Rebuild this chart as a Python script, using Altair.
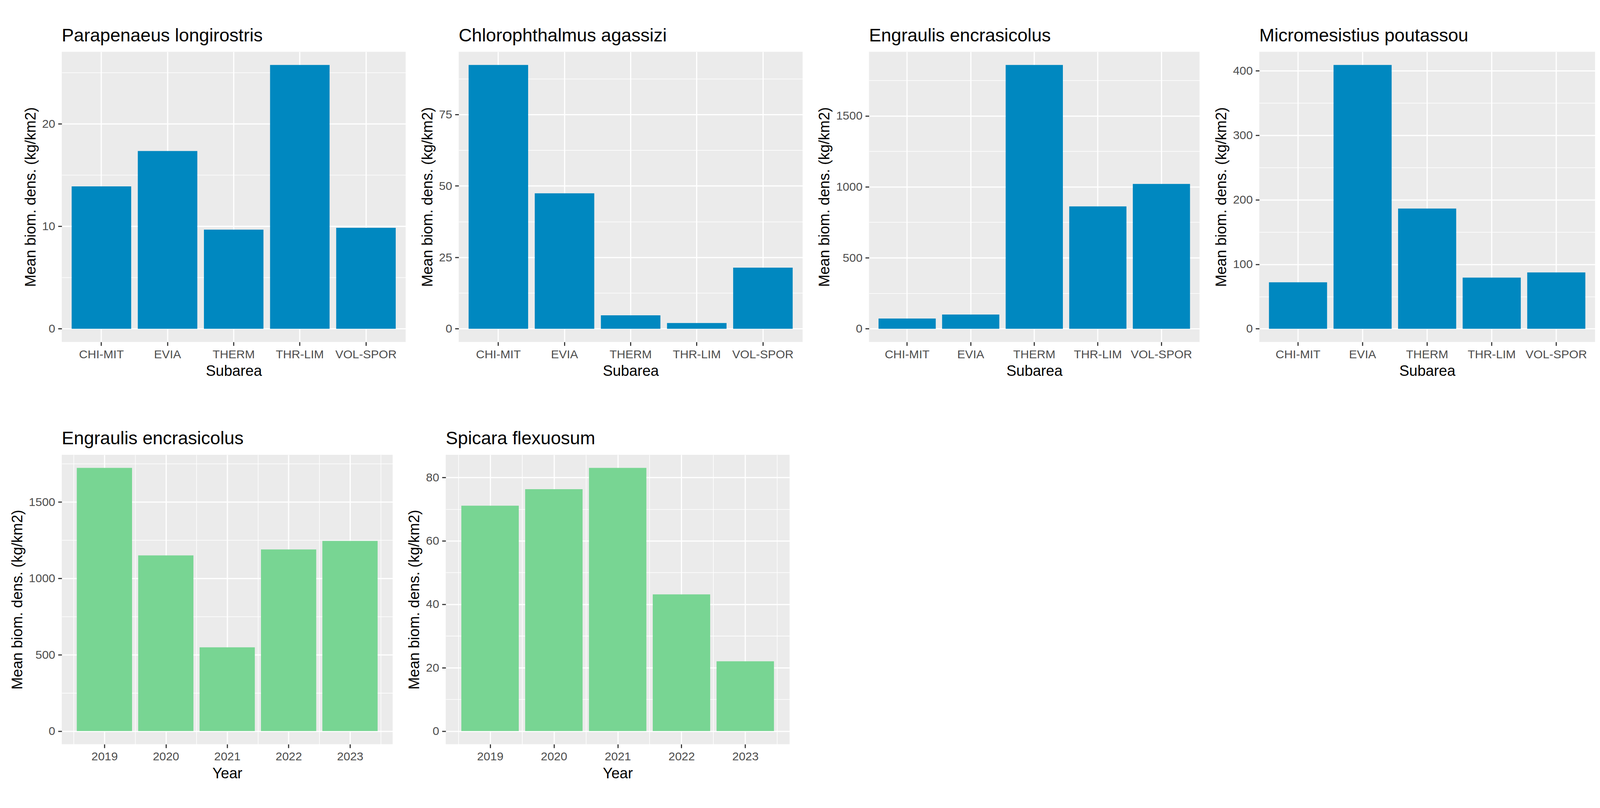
import altair as alt
import pandas as pd

# ---- data ----
subareas = ["CHI-MIT", "EVIA", "THERM", "THR-LIM", "VOL-SPOR"]
parapenaeus = [13.9, 17.35, 9.68, 25.75, 9.86]
chlorophthalmus = [92.3, 47.4, 4.7, 2.0, 21.4]
engraulis_sub = [72, 100, 1858, 862, 1020]
micromesistius = [72, 409, 186.4, 79.3, 87.3]

years = [2019, 2020, 2021, 2022, 2023]
engraulis_year = [1723, 1150, 548, 1189, 1245]
spicara = [71.1, 76.3, 83.0, 43.1, 22.0]

BLUE = "#0088C0"
GREEN = "#78D593"
FONT = "Liberation Sans"
YTITLE = "Mean biom. dens. (kg/km2)"

GRID_MAJOR = 3.2
GRID_MINOR = 1.6


def y_axis_values(vmax, step):
    lo, hi = -0.05 * vmax, 1.05 * vmax
    vals = []
    k = 0
    while k * step / 2 <= hi:
        vals.append(k * step / 2)
        k += 1
    return sorted(vals), [lo, hi]


def y_enc(vals, step):
    values, domain = y_axis_values(max(vals), step)
    test = f"abs(datum.value % {step}) < 1e-9"
    return alt.Y(
        "val:Q",
        title=YTITLE,
        scale=alt.Scale(domain=domain, nice=False, zero=False),
        axis=alt.Axis(
            values=values,
            labelExpr=f"abs(datum.value % {step}) < 1e-9 ? format(datum.value, 'd') : ''",
            gridWidth={"condition": {"test": test, "value": GRID_MAJOR}, "value": GRID_MINOR},
            tickOpacity={"condition": {"test": test, "value": 1}, "value": 0},
            labelOverlap=False,
            labelFlush=False,
            grid=True,
        ),
    )


def title_params(text):
    return alt.TitleParams(
        text=text, anchor="start", frame="group", fontSize=49, font=FONT,
        fontWeight="normal", color="black", offset=18,
    )


def subarea_panel(title, vals, step, width, height=782):
    df = pd.DataFrame({"cat": subareas, "val": vals})
    return (
        alt.Chart(df)
        .mark_bar(color=BLUE)
        .encode(
            x=alt.X(
                "cat:N", sort=subareas, title="Subarea",
                scale=alt.Scale(paddingInner=0.1, paddingOuter=0.15),
                axis=alt.Axis(labelAngle=0, grid=True, gridWidth=GRID_MAJOR),
            ),
            y=y_enc(vals, step),
        )
        .properties(width=width, height=height, title=title_params(title))
    )


def year_panel(title, vals, step, width, height=780):
    df = pd.DataFrame({"year": years, "val": vals})
    xvals = []
    for y in years:
        xvals += [y - 0.5, y]
    xvals.append(years[-1] + 0.5)
    lo = years[0] - 0.45 - 0.05 * (years[-1] - years[0] + 0.9)
    hi = years[-1] + 0.45 + 0.05 * (years[-1] - years[0] + 0.9)
    test = "abs(datum.value % 1) < 1e-9"
    return (
        alt.Chart(df)
        .transform_calculate(x0="datum.year - 0.45", x1="datum.year + 0.45")
        .mark_bar(color=GREEN)
        .encode(
            x=alt.X(
                "x0:Q", title="Year",
                scale=alt.Scale(domain=[lo, hi], nice=False, zero=False),
                axis=alt.Axis(
                    values=xvals,
                    labelExpr="abs(datum.value % 1) < 1e-9 ? format(datum.value, 'd') : ''",
                    gridWidth={"condition": {"test": test, "value": GRID_MAJOR}, "value": GRID_MINOR},
                    tickOpacity={"condition": {"test": test, "value": 1}, "value": 0},
                    labelOverlap=False,
                    labelFlush=False,
                    grid=True,
                ),
            ),
            x2="x1:Q",
            y=y_enc(vals, step),
            y2=alt.datum(0),
        )
        .properties(width=width, height=height, title=title_params(title))
    )


p1 = subarea_panel("Parapenaeus longirostris", parapenaeus, 10, 927)
p2 = subarea_panel("Chlorophthalmus agassizi", chlorophthalmus, 25, 927)
p3 = subarea_panel("Engraulis encrasicolus", engraulis_sub, 500, 891)
p4 = subarea_panel("Micromesistius poutassou", micromesistius, 100, 905)
p5 = year_panel("Engraulis encrasicolus", engraulis_year, 500, 892)
p6 = year_panel("Spicara flexuosum", spicara, 20, 927)

chart = (
    alt.vconcat(
        alt.hconcat(p1, p2, p3, p4, spacing=39),
        alt.hconcat(p5, p6, spacing=39),
        spacing=138,
    )
    .properties(padding={"left": 18, "top": 10, "right": 5, "bottom": 3}, background="white")
    .configure_view(fill="#EBEBEB", strokeWidth=0)
    .configure_axis(
        domain=False,
        gridColor="white",
        tickColor="#333333",
        tickWidth=3,
        tickSize=10,
        labelFont=FONT,
        labelFontSize=32,
        labelColor="#4D4D4D",
        labelPadding=8,
        titleFont=FONT,
        titleFontSize=40,
        titleFontWeight="normal",
        titleColor="black",
        titlePadding=10,
    )
)

chart.save("out.html", embed_options={"renderer": "svg", "actions": False})
